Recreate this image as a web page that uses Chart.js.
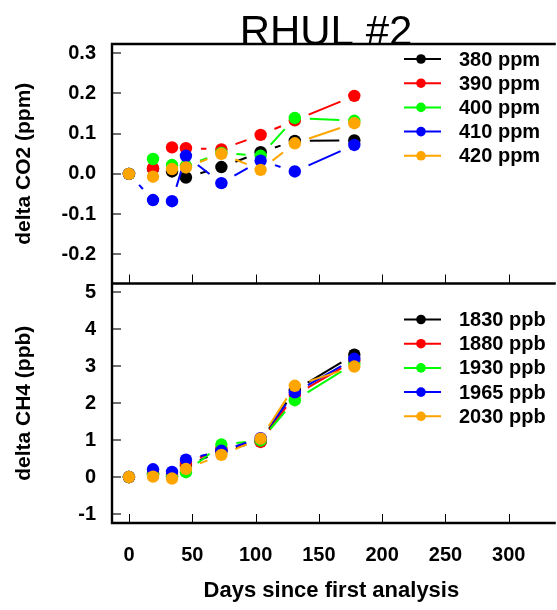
<!DOCTYPE html>
<html>
<head>
<meta charset="utf-8">
<script src="https://cdn.jsdelivr.net/npm/chart.js@4/dist/chart.umd.min.js"></script>
<style>
  html, body { margin: 0; padding: 0; background: #fff; overflow: hidden; }
  #wrap { width: 557px; height: 610px; }
</style>
</head>
<body>
<div id="wrap"><canvas id="c" width="557" height="610"></canvas></div>
<script>
// ---------------- data ----------------
const TITLE = 'RHUL #2';
const DAYS = [0, 19, 34, 45, 73, 104, 131, 178];

const CO2_LABELS = ['380 ppm', '390 ppm', '400 ppm', '410 ppm', '420 ppm'];
const CO2_380 = [0, 0.012, 0.006, -0.009, 0.017, 0.054, 0.082, 0.083];
const CO2_390 = [0, 0.014, 0.066, 0.064, 0.061, 0.097, 0.133, 0.194];
const CO2_400 = [0, 0.037, 0.022, 0.020, 0.052, 0.045, 0.139, 0.132];
const CO2_410 = [0, -0.065, -0.068, 0.045, -0.023, 0.033, 0.006, 0.072];
const CO2_420 = [0, -0.007, 0.012, 0.016, 0.050, 0.010, 0.076, 0.126];

const CH4_LABELS = ['1830 ppb', '1880 ppb', '1930 ppb', '1965 ppb', '2030 ppb'];
const CH4_1830 = [0, 0.10, 0.02, 0.30, 0.70, 0.97, 2.35, 3.31];
const CH4_1880 = [0, 0.08, 0.06, 0.38, 0.76, 0.95, 2.22, 3.15];
const CH4_1930 = [0, 0.05, 0.01, 0.13, 0.88, 0.99, 2.08, 3.07];
const CH4_1965 = [0, 0.21, 0.14, 0.47, 0.71, 1.05, 2.29, 3.20];
const CH4_2030 = [0, 0.01, -0.04, 0.22, 0.60, 1.04, 2.47, 2.99];

const X_TICKS = [0, 50, 100, 150, 200, 250, 300];
const CO2_TICKS = [-0.2, -0.1, 0.0, 0.1, 0.2, 0.3];
const CH4_TICKS = [-1, 0, 1, 2, 3, 4, 5];

const COLORS = ['#000000', '#ff0000', '#00ff00', '#0000ff', '#ffa500'];

// ---------------- build ----------------
const FONT = '"Liberation Sans", Arial, sans-serif';
const co2Series = [CO2_380, CO2_390, CO2_400, CO2_410, CO2_420];
const ch4Series = [CH4_1830, CH4_1880, CH4_1930, CH4_1965, CH4_2030];

function mkDataset(label, vals, i, axis) {
  return {
    label: label,
    data: DAYS.map((d, k) => ({ x: d, y: vals[k] })),
    yAxisID: axis,
    showLine: false,
    borderColor: COLORS[i],
    backgroundColor: COLORS[i],
    pointBackgroundColor: COLORS[i],
    pointBorderColor: COLORS[i],
    pointBorderWidth: 0,
    pointRadius: 6.2,
    pointHoverRadius: 6.2,
    order: 10 - i,
    clip: false
  };
}
const datasets = [];
co2Series.forEach((v, i) => datasets.push(mkDataset(CO2_LABELS[i], v, i, 'yCO2')));
ch4Series.forEach((v, i) => datasets.push(mkDataset(CH4_LABELS[i], v, i, 'yCH4')));

const GAP = 15;
const gappedLines = {
  id: 'gappedLines',
  beforeDatasetDraw(chart, args) {
    const ctx = chart.ctx;
    const pts = args.meta.data;
    const ds = chart.data.datasets[args.index];
    ctx.save();
    ctx.strokeStyle = ds.borderColor;
    ctx.lineWidth = 2;
    ctx.lineCap = 'butt';
    for (let k = 0; k < pts.length - 1; k++) {
      const p0 = pts[k], p1 = pts[k + 1];
      const dx = p1.x - p0.x, dy = p1.y - p0.y;
      const len = Math.hypot(dx, dy);
      if (len <= 2 * GAP) continue;
      const ux = dx / len, uy = dy / len;
      ctx.beginPath();
      ctx.moveTo(p0.x + ux * GAP, p0.y + uy * GAP);
      ctx.lineTo(p1.x - ux * GAP, p1.y - uy * GAP);
      ctx.stroke();
    }
    ctx.restore();
  }
};

const frame = {
  id: 'frame',
  afterDatasetsDraw(chart) {
    const ctx = chart.ctx;
    const a = chart.chartArea;
    const sx = chart.scales.x, s1 = chart.scales.yCO2, s2 = chart.scales.yCH4;
    ctx.save();
    // y ticks (inward, grey)
    ctx.strokeStyle = '#707070';
    ctx.lineWidth = 2;
    [[s1, CO2_TICKS], [s2, CH4_TICKS]].forEach(([s, tk]) => {
      tk.forEach(v => {
        const y = Math.round(s.getPixelForValue(v));
        ctx.beginPath(); ctx.moveTo(a.left, y); ctx.lineTo(a.left + 9, y); ctx.stroke();
      });
    });
    // x ticks (inward, black) at bottom of each panel
    ctx.strokeStyle = '#000';
    ctx.lineWidth = 1;
    [s1.bottom, s2.bottom].forEach(yb => {
      X_TICKS.forEach(v => {
        const x = Math.round(sx.getPixelForValue(v)) + 0.5;
        ctx.beginPath(); ctx.moveTo(x, yb); ctx.lineTo(x, yb - 9); ctx.stroke();
      });
    });
    // borders
    ctx.strokeStyle = '#000';
    ctx.lineWidth = 2.4;
    ctx.beginPath();
    ctx.moveTo(a.left, a.top); ctx.lineTo(a.right + 5, a.top);
    ctx.moveTo(a.left, s1.bottom); ctx.lineTo(a.right + 5, s1.bottom);
    ctx.moveTo(a.left, a.bottom); ctx.lineTo(a.right + 5, a.bottom);
    ctx.moveTo(a.left, a.top - 1.2); ctx.lineTo(a.left, a.bottom + 1.2);
    ctx.stroke();
    // title
    ctx.fillStyle = '#000';
    ctx.font = 'normal 42px ' + FONT;
    ctx.textAlign = 'center';
    ctx.textBaseline = 'alphabetic';
    ctx.fillText(TITLE, 326, a.top + 1);
    // legends
    const drawLegend = (labels, topY) => {
      labels.forEach((lab, i) => {
        const y = topY + i * 24.2;
        ctx.strokeStyle = COLORS[i];
        ctx.lineWidth = 2;
        ctx.beginPath(); ctx.moveTo(404, y); ctx.lineTo(441, y); ctx.stroke();
        ctx.fillStyle = COLORS[i];
        ctx.beginPath(); ctx.arc(421, y, 4.8, 0, Math.PI * 2); ctx.fill();
        ctx.fillStyle = '#000';
        ctx.font = 'bold 20px ' + FONT;
        ctx.textAlign = 'left';
        ctx.textBaseline = 'middle';
        ctx.fillText(lab, 459, y + 1);
      });
    };
    drawLegend(CO2_LABELS, s1.top + 15);
    drawLegend(CH4_LABELS, s2.top + 36);
    ctx.restore();
  }
};

const tickFont = { family: FONT, size: 20, weight: 'bold' };
const titleFont = { family: FONT, size: 21, weight: 'bold' };

new Chart(document.getElementById('c'), {
  type: 'line',
  data: { datasets },
  plugins: [gappedLines, frame],
  options: {
    responsive: false,
    animation: false,
    events: [],
    layout: { padding: { top: 44, right: 0, left: 0, bottom: 0 } },
    plugins: { legend: { display: false }, title: { display: false }, tooltip: { enabled: false } },
    scales: {
      x: {
        type: 'linear', position: 'bottom',
        min: -13.4, max: 333.2,
        afterBuildTicks: s => { s.ticks = X_TICKS.map(v => ({ value: v })); },
        afterFit: s => { s.height = 87; s.paddingLeft = 0; s.paddingRight = 0; },
        grid: { display: false, drawTicks: false },
        border: { display: false },
        ticks: { font: tickFont, color: '#000', padding: 20, maxRotation: 0, autoSkip: false },
        title: { display: true, text: 'Days since first analysis', color: '#000',
                 font: { family: FONT, size: 22, weight: 'bold' }, padding: { top: 0, bottom: 6 } }
      },
      yCO2: {
        type: 'linear', position: 'left', stack: 'panels', stackWeight: 1, weight: 2,
        min: -0.2726, max: 0.323,
        afterBuildTicks: s => { s.ticks = CO2_TICKS.map(v => ({ value: v })); },
        afterFit: s => { s.width = 112; s.paddingTop = 0; s.paddingBottom = 0; },
        grid: { display: false, drawTicks: false },
        border: { display: false },
        ticks: { font: tickFont, color: '#000', padding: 16, autoSkip: false, callback: v => Number(v).toFixed(1) },
        title: { display: true, text: 'delta CO2 (ppm)', color: '#000', font: titleFont, padding: { top: 12, bottom: 0 } }
      },
      yCH4: {
        type: 'linear', position: 'left', stack: 'panels', stackWeight: 1, weight: 1,
        min: -1.244, max: 5.238,
        afterBuildTicks: s => { s.ticks = CH4_TICKS.map(v => ({ value: v })); },
        afterFit: s => { s.width = 112; s.paddingTop = 0; s.paddingBottom = 0; },
        grid: { display: false, drawTicks: false },
        border: { display: false },
        ticks: { font: tickFont, color: '#000', padding: 16, autoSkip: false, callback: v => String(Math.round(v)) },
        title: { display: true, text: 'delta CH4 (ppb)', color: '#000', font: titleFont, padding: { top: 12, bottom: 0 } }
      }
    }
  }
});
</script>
</body>
</html>
